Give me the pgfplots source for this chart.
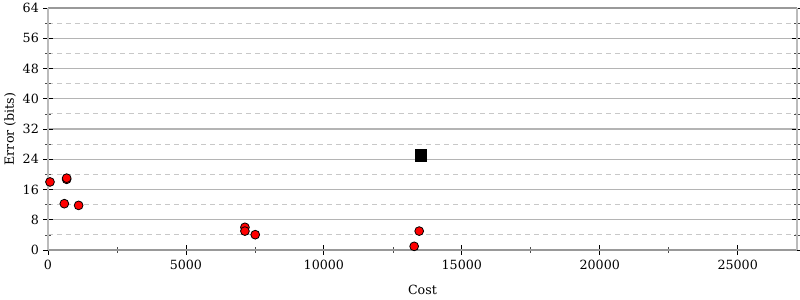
\documentclass[border=0pt]{standalone}
\usepackage{fontspec}
\setmainfont{DejaVu Serif}
\usepackage{pgfplots}
\pgfplotsset{compat=1.18}
\definecolor{gridmaj}{HTML}{B4B4B4}
\definecolor{gridmin}{HTML}{C8C8C8}
\definecolor{axbot}{HTML}{999999}
\definecolor{axside}{HTML}{BBBBBB}
\begin{document}
\fontsize{9.5}{11}\selectfont
\begin{tikzpicture}
\begin{axis}[
  at={(0,0)}, anchor=south west,
  scale only axis,
  width=561.75pt, height=181.5pt,
  xmin=0, xmax=27150,
  ymin=0, ymax=64,
  xtick={0,5000,10000,15000,20000,25000},
  minor xtick={2500,7500,12500,17500,22500},
  ytick={0,8,16,24,32,40,48,56,64},
  minor ytick={4,12,20,28,36,44,52,60},
  scaled x ticks=false,
  /pgf/number format/assume math mode=true,
  x tick label style={/pgf/number format/1000 sep={}, font=\fontsize{9.5}{11}\selectfont},
  y tick label style={font=\fontsize{9.5}{11}\selectfont},
  xtick pos=bottom,
  ytick pos=both,
  tick align=center,
  major tick length=7pt,
  minor tick length=4pt,
  major tick style={black, line width=0.6pt},
  minor tick style={black!70, line width=0.5pt},
  ymajorgrids, yminorgrids,
  major grid style={gridmaj, line width=0.8pt},
  minor grid style={gridmin, line width=0.8pt, dash pattern=on 3.75pt off 3pt},
  axis line style={draw=none},
  xlabel={Cost}, ylabel={Error (bits)},
  xlabel style={at={(axis description cs:0.5,0)}, anchor=center, yshift=-30pt, font=\fontsize{9.5}{11}\selectfont},
  ylabel style={at={(axis description cs:0,0.5)}, anchor=center, rotate=0, yshift=28.5pt, font=\fontsize{9.5}{11}\selectfont},
  xticklabel style={yshift=-1pt},
  clip=false,
]
% axis frame
\draw[axbot, line width=1.5pt] (rel axis cs:0,0) -- (rel axis cs:1,0);
\draw[axbot, line width=1.5pt] (rel axis cs:0,1) -- (rel axis cs:1,1);
\draw[axside, line width=1.8pt] (rel axis cs:0,0) -- (rel axis cs:0,1);
\draw[axside, line width=1.8pt] (rel axis cs:1,0) -- (rel axis cs:1,1);
\addplot[only marks, mark=*, mark size=3.3pt, mark options={fill=red, draw=black, line width=0.6pt}]
coordinates {
(72,18.0)
(676,18.7)
(676,19.0)
(592,12.25)
(1110,11.8)
(7138,6.0)
(7138,5.0)
(7512,4.05)
(13455,5.0)
(13273,0.97)
};
\addplot[only marks, mark=square*, mark size=4.2pt, mark options={fill=black, draw=black}]
coordinates {(13500,25.05)};
\end{axis}
\pgfresetboundingbox
\path (-36pt,-37.5pt) rectangle (564pt,187.5pt);
\end{tikzpicture}
\end{document}
